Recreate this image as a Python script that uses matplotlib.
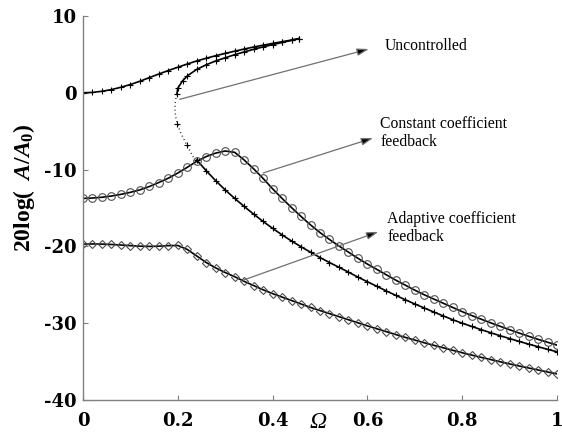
import numpy as np
import matplotlib
matplotlib.use("Agg")
import matplotlib.pyplot as plt

plt.rcParams["font.family"] = ["Liberation Serif", "DejaVu Serif"]
plt.rcParams["mathtext.fontset"] = "custom"
plt.rcParams["mathtext.rm"] = "Liberation Serif:bold"
plt.rcParams["mathtext.it"] = "Liberation Serif:italic:bold"
plt.rcParams["mathtext.bf"] = "Liberation Serif:bold"

# ---- frequency grid (Omega) ----
omega = np.round(np.arange(0.0, 1.0001, 0.02), 2)

# ---- uncontrolled response (three branches) ----
unc_upper_x = list(omega[:23]) + [0.455]
unc_upper_y = [0.0, 0.05, 0.2, 0.42, 0.72, 1.08, 1.5, 1.98, 2.45, 2.9, 3.33, 3.75,
               4.15, 4.5, 4.83, 5.13, 5.42, 5.7, 5.96, 6.2, 6.43, 6.65, 6.87, 7.05]

unc_mid_x = [0.455, 0.44, 0.42, 0.40, 0.38, 0.36, 0.34, 0.32, 0.30, 0.28, 0.26,
             0.24, 0.22, 0.21, 0.20, 0.198]
unc_mid_y = [7.05, 6.83, 6.55, 6.27, 5.98, 5.66, 5.32, 4.96, 4.56, 4.15, 3.65,
             3.05, 2.2, 1.55, 0.6, -0.2]

unc_fold_x = [0.198, 0.195, 0.194, 0.195, 0.199, 0.206, 0.219, 0.236]
unc_fold_y = [-0.2, -1.0, -2.0, -3.0, -4.0, -5.2, -6.8, -8.75]
unc_fold_mark_x = [0.199, 0.219]
unc_fold_mark_y = [-4.0, -6.8]

unc_lower_x = list(omega[12:])
unc_lower_y = [-8.75, -10.15, -11.45, -12.65, -13.75, -14.8, -15.8, -16.75, -17.65,
               -18.5, -19.3, -20.05, -20.75, -21.45, -22.1, -22.72, -23.35, -24.0,
               -24.6, -25.2, -25.8, -26.38, -26.95, -27.5, -28.02, -28.55, -29.05,
               -29.55, -30.0, -30.42, -30.84, -31.24, -31.63, -32.0, -32.37, -32.72,
               -33.06, -33.4, -33.72]

# ---- constant coefficient feedback ----
const_y = [-13.75, -13.7, -13.6, -13.44, -13.22, -12.96, -12.64, -12.2, -11.68, -11.12,
           -10.45, -9.7, -8.92, -8.3, -7.85, -7.58, -7.75, -8.75, -9.9, -11.15,
           -12.5, -13.75, -14.95, -16.1, -17.2, -18.2, -19.1, -19.95, -20.75, -21.55,
           -22.3, -23.0, -23.7, -24.4, -25.05, -25.7, -26.3, -26.85, -27.4, -27.95,
           -28.5, -29.0, -29.48, -29.95, -30.4, -30.85, -31.28, -31.7, -32.1, -32.48,
           -32.85]

# ---- adaptive coefficient feedback ----
adapt_y = [-19.7, -19.68, -19.7, -19.75, -19.82, -19.9, -19.97, -20.0, -19.97, -19.9,
           -19.88, -20.4, -21.25, -22.1, -22.8, -23.4, -23.95, -24.55, -25.1, -25.65,
           -26.15, -26.6, -27.05, -27.5, -27.95, -28.35, -28.75, -29.15, -29.55, -29.95,
           -30.35, -30.73, -31.1, -31.48, -31.85, -32.2, -32.55, -32.88, -33.2, -33.53,
           -33.85, -34.15, -34.45, -34.73, -35.02, -35.3, -35.57, -35.83, -36.09, -36.35,
           -36.6]

x_ticks = [0, 0.2, 0.4, 0.6, 0.8, 1]
x_tick_labels = ["0", "0.2", "0.4", "0.6", "0.8", "1"]
y_ticks = [-40, -30, -20, -10, 0, 10]
y_tick_labels = ["-40", "-30", "-20", "-10", "0", "10"]

fig = plt.figure(figsize=(5.62, 4.32), dpi=100)
ax = fig.add_axes([83 / 562, 32 / 432, 474 / 562, 384 / 432])

line_kw = dict(color="black", lw=1.2)
mk_gray = "#505050"
plus_kw = dict(marker="+", ms=5, mec="black", mew=0.8)

# uncontrolled
ax.plot(unc_upper_x, unc_upper_y, **plus_kw, **line_kw)
ax.plot(unc_mid_x, unc_mid_y, **plus_kw, **line_kw)
ax.plot(unc_fold_x, unc_fold_y, ls=(0, (0.6, 2.2)), color="black", lw=1.0)
ax.plot(unc_fold_mark_x, unc_fold_mark_y, ls="none", **plus_kw)
ax.plot(unc_lower_x, unc_lower_y, **plus_kw, **line_kw)

# constant coefficient feedback
ax.plot(omega, const_y, marker="o", ms=5.5, mfc="none", mec=mk_gray, mew=0.8, **line_kw)

# adaptive coefficient feedback
ax.plot(omega, adapt_y, marker="D", ms=4.3, mfc="none", mec=mk_gray, mew=0.8, **line_kw)

ax.set_xlim(0, 1)
ax.set_ylim(-40, 10)
ax.set_xticks(x_ticks)
ax.set_xticklabels(x_tick_labels)
ax.set_yticks(y_ticks)
ax.set_yticklabels(y_tick_labels)

for s in ("top", "right"):
    ax.spines[s].set_visible(False)
for s in ("left", "bottom"):
    ax.spines[s].set_color("#808080")
    ax.spines[s].set_linewidth(1.0)

ax.tick_params(direction="in", length=3.5, width=0.8, color="#808080", labelsize=13)
ax.tick_params(axis="x", pad=9)
ax.tick_params(axis="y", pad=4.5)
for lab in ax.get_xticklabels() + ax.get_yticklabels():
    lab.set_fontfamily("DejaVu Serif")
    lab.set_fontweight("bold")

fig.text(24 / 562, 1 - 188 / 432, r"$\mathrm{20log(}\;\ \mathit{A/A_0})$",
         rotation=90, ha="center", va="center", fontsize=17)
fig.text(318 / 562, 1 - 423 / 432, "\u03A9", ha="center", va="center",
         fontsize=17, fontstyle="italic")

arrow_kw = dict(arrowstyle="-|>,head_length=0.7,head_width=0.22",
                ec="#707070", fc="black", lw=0.9, shrinkA=0, shrinkB=0)

ax.annotate("", xy=(0.603, 5.7), xytext=(0.204, -0.85), arrowprops=arrow_kw)
ax.text(0.637, 6.1, "Uncontrolled", fontsize=11.3, ha="left", va="center")

ax.annotate("", xy=(0.612, -5.89), xytext=(0.380, -10.44), arrowprops=arrow_kw)
ax.text(0.627, -5.23, "Constant coefficient\nfeedback", fontsize=11.3,
        ha="left", va="center", linespacing=1.1)

ax.annotate("", xy=(0.623, -18.1), xytext=(0.338, -24.4), arrowprops=arrow_kw)
ax.text(0.642, -17.6, "Adaptive coefficient\nfeedback", fontsize=11.3,
        ha="left", va="center", linespacing=1.1)

fig.savefig("out.png", dpi=100)
